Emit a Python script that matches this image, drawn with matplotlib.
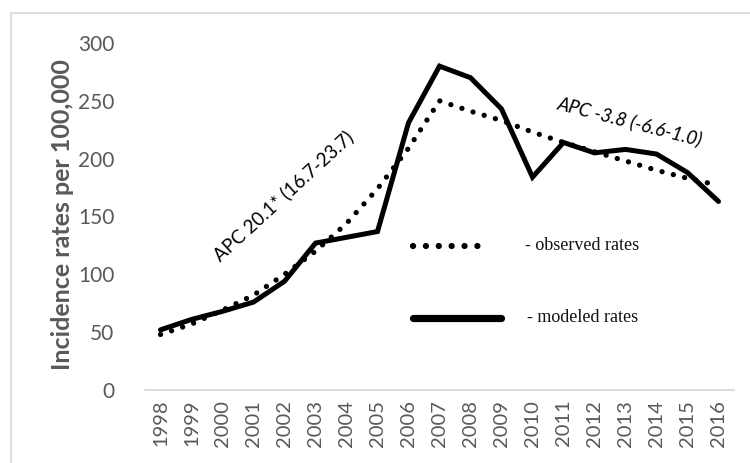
import matplotlib
matplotlib.use("Agg")
import matplotlib.pyplot as plt
from matplotlib.lines import Line2D

years = [str(y) for y in range(1998, 2017)]
modeled_line = [52, 61, 68, 76, 94, 127, 132, 137, 231, 280, 270, 243, 184, 214, 205, 208, 204, 188, 163]
observed_dots = [48, 57, 69, 82, 100, 120, 144, 174, 209, 250, 241, 233, 223, 214, 206, 198, 190, 183, 177]
yticks = [0, 50, 100, 150, 200, 250, 300]
ylabel = "Incidence rates per 100,000"
apc1 = "APC 20.1* (16.7-23.7)"
apc2 = "APC -3.8 (-6.6-1.0)"
legend_labels = ["- observed rates", "- modeled rates"]

W, H = 750, 463
fig = plt.figure(figsize=(7.5, 4.63), dpi=100)
fig.patch.set_facecolor("white")

ax = fig.add_axes([145 / W, 1 - 390 / H, 589 / W, 347 / H])
x = list(range(len(years)))

ax.plot(x, modeled_line, color="black", lw=3.6, solid_joinstyle="miter",
        solid_capstyle="round", zorder=3)
ax.plot(x, observed_dots, color="black", lw=3.8, linestyle=(0, (0.01, 2.2)),
        dash_capstyle="round", zorder=4)

ax.set_xlim(-0.5, len(years) - 0.5)
ax.set_ylim(0, 300)
ax.set_xticks(x)
ax.set_xticklabels(years, rotation=90, fontsize=14.5, color="#595959", family="Lato")
ax.set_yticks(yticks)
ax.set_yticklabels([str(v) for v in yticks], fontsize=15, color="#595959", family="Lato")
ax.tick_params(axis="both", length=0)
ax.tick_params(axis="y", pad=22)
ax.tick_params(axis="x", pad=7)
for s in ["top", "right", "left"]:
    ax.spines[s].set_visible(False)
ax.spines["bottom"].set_color("#d9d9d9")
ax.spines["bottom"].set_linewidth(1.3)
ax.patch.set_alpha(0)

fig.text(63 / W, 1 - 215 / H, ylabel, rotation=90, ha="center", va="center",
         fontsize=18, fontweight="bold", color="#595959", family="Lato")

fig.text(283 / W, 1 - 196 / H, apc1, fontsize=13.5, rotation=42.5,
         ha="center", va="center", family="Lato", color="black",
         rotation_mode="anchor")
fig.text(630 / W, 1 - 121 / H, apc2, fontsize=13.5, rotation=-14.5,
         ha="center", va="center", family="Lato", style="italic", color="black",
         rotation_mode="anchor")

def axx(px):
    return (px - 145) / 589

def axy(py):
    return (390 - py) / 347

ax.add_line(Line2D([axx(413), axx(490)], [axy(246), axy(246)], transform=ax.transAxes,
                   color="black", lw=4.5, linestyle=(0, (0.01, 2.05)),
                   dash_capstyle="round"))
ax.add_line(Line2D([axx(413), axx(501)], [axy(318), axy(318)], transform=ax.transAxes,
                   color="black", lw=5.2, solid_capstyle="round"))
ax.text(axx(525), axy(246), legend_labels[0], transform=ax.transAxes, va="center",
        ha="left", fontsize=13, family="Liberation Serif", color="#111111")
ax.text(axx(527), axy(318), legend_labels[1], transform=ax.transAxes, va="center",
        ha="left", fontsize=13, family="Liberation Serif", color="#111111")

bx, by = 11 / W, 1 - 13 / H
fig.add_artist(Line2D([bx, bx], [0, by], transform=fig.transFigure, color="#d9d9d9", lw=1.3))
fig.add_artist(Line2D([bx, 1], [by, by], transform=fig.transFigure, color="#d9d9d9", lw=1.3))

fig.savefig("out.png", dpi=100)
